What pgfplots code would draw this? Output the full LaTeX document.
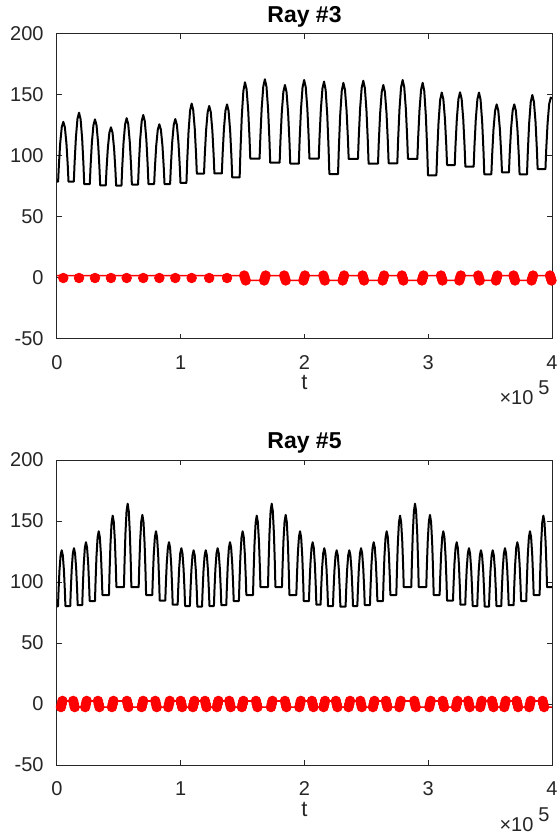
\documentclass[border=0pt]{standalone}
\usepackage{fontspec}
\setmainfont{Liberation Sans}
\usepackage{pgfplots}
\pgfplotsset{compat=1.18}
\definecolor{axgray}{RGB}{38,38,38}
\pgfplotsset{myax/.style={
 scale only axis, width=247.5pt, height=152.5pt,
 xmin=0,xmax=400,ymin=-50,ymax=200,
 xtick={0,100,200,300,400}, xticklabels={0,1,2,3,4},
 ytick={-50,0,50,100,150,200}, yticklabels={-50,0,50,100,150,200},
 scaled x ticks=false, scaled y ticks=false,
 tick align=inside, major tick length=2.5pt,
 axis line style={axgray, line width=0.5pt},
 every tick/.style={axgray, line width=0.5pt},
 ticklabel style={font=\fontsize{10}{12}\selectfont, text=axgray},
 xticklabel style={anchor=base, inner sep=0pt, yshift=-15.2pt},
 yticklabel style={anchor=east, inner sep=0pt, xshift=-6.5pt},
 title style={at={(axis description cs:0.5,1)}, anchor=base, yshift=-0.4pt, font=\bfseries\fontsize{11.5}{13}\selectfont},
 xlabel style={at={(axis description cs:0.5,0)}, anchor=base, yshift=-25.5pt, font=\fontsize{11}{13}\selectfont, text=axgray},
 xlabel={t},
 /pgf/number format/assume math mode=true,
}}
\begin{document}
\begin{tikzpicture}
\path[use as bounding box] (0,0) rectangle (278.5pt,-417.5pt);
% ---------------- Ray #3 ----------------
\begin{axis}[myax, name=top, at={(28.5pt,-17pt)}, anchor=north west, title={Ray \#3}]
\addplot[black, line width=1pt, line join=round] coordinates {
(0,79)
(0.9,79)(1.53,92.6)(2.58,110.4)(3.84,123.6)(5.1,128)(6.36,123.6)(7.62,110.4)(8.67,92.6)(9.3,79)
(13.6,79)(14.23,94.7)(15.28,115.2)(16.54,130.4)(17.8,135.5)(19.06,130.2)(20.32,114.4)(21.37,93.2)(22.0,77)
(26.5,77)(27.13,91.7)(28.18,110.9)(29.44,125.2)(30.7,130)(31.96,125.1)(33.22,110.6)(34.27,91.0)(34.9,76)
(39.4,76)(40.03,89.2)(41.08,106.4)(42.34,119.2)(43.6,123.5)(44.86,119.2)(46.12,106.3)(47.17,89.0)(47.8,75.7)
(52.1,75.7)(52.73,91.0)(53.78,111.1)(55.04,126.0)(56.3,131)(57.56,126.1)(58.82,111.4)(59.87,91.7)(60.5,76.6)
(65.5,76.6)(66.13,92.4)(67.18,113.1)(68.44,128.5)(69.7,133.6)(70.96,128.5)(72.22,113.2)(73.27,92.7)(73.9,77)
(78.5,77)(79.13,90.6)(80.18,108.4)(81.44,121.6)(82.7,126)(83.96,121.6)(85.22,108.4)(86.27,90.6)(86.9,77)
(91.4,77)(92.03,91.8)(93.08,111.1)(94.34,125.5)(95.6,130.3)(96.86,125.6)(98.12,111.5)(99.17,92.5)(99.8,78)
(104.6,78)(105.23,96.0)(106.28,119.6)(107.54,137.2)(108.8,143)(110.06,137.8)(111.32,122.3)(112.37,101.5)(113.0,85.5)
(118.8,85.5)(119.43,100.9)(120.48,121.0)(121.74,136.0)(123.0,141)(124.26,136.0)(125.52,121.1)(126.57,101.0)(127.2,85.7)
(133.2,85.7)(133.83,101.4)(134.88,121.9)(136.14,137.2)(137.4,142.3)(138.66,136.9)(139.92,120.8)(140.97,99.1)(141.6,82.5)
(147.6,82.5)(148.245,104.1)(149.32,132.4)(150.61,153.4)(151.9,160.4)(153.19,154.8)(154.48,137.9)(155.555,115.2)(156.2,97.8)
(163.7,97.8)(164.345,115.9)(165.42,139.5)(166.71,157.0)(168.0,162.9)(169.29,156.7)(170.58,138.3)(171.655,113.5)(172.3,94.5)
(179.9,94.5)(180.545,112.2)(181.62,135.3)(182.91,152.5)(184.2,158.2)(185.49,152.4)(186.78,135.0)(187.855,111.6)(188.5,93.7)
(195.4,93.7)(196.045,112.7)(197.12,137.6)(198.41,156.1)(199.7,162.3)(200.99,156.5)(202.28,139.1)(203.355,115.7)(204.0,97.8)
(211.5,97.8)(212.145,115.3)(213.22,138.2)(214.51,155.3)(215.8,161)(217.09,154.2)(218.38,133.7)(219.455,106.2)(220.1,85.2)
(227.1,85.2)(227.745,106.0)(228.82,133.1)(230.11,153.3)(231.4,160)(232.69,154.4)(233.98,137.5)(235.055,114.9)(235.7,97.6)
(243.2,97.6)(243.845,115.4)(244.92,138.6)(246.21,155.9)(247.5,161.7)(248.79,155.6)(250.08,137.2)(251.155,112.6)(251.8,93.7)
(259.4,93.7)(260.045,111.6)(261.12,135.0)(262.41,152.4)(263.7,158.2)(264.99,152.4)(266.28,135.1)(267.355,111.8)(268.0,94)
(275.0,94)(275.645,113.0)(276.72,137.7)(278.01,156.2)(279.3,162.3)(280.59,156.5)(281.88,139.0)(282.955,115.6)(283.6,97.6)
(291.2,97.6)(291.845,114.9)(292.92,137.5)(294.21,154.4)(295.5,160)(296.79,153.2)(298.08,132.7)(299.155,105.2)(299.8,84.2)
(306.6,84.2)(307.245,103.0)(308.32,127.6)(309.61,145.9)(310.9,152)(312.19,146.7)(313.48,130.6)(314.555,109.1)(315.2,92.6)
(321.4,92.6)(322.045,109.1)(323.12,130.7)(324.41,146.8)(325.7,152.2)(326.99,146.7)(328.28,130.2)(329.355,108.1)(330.0,91.2)
(336.7,91.2)(337.345,108.1)(338.42,130.1)(339.71,146.5)(341.0,152)(342.29,146.0)(343.58,127.9)(344.655,103.6)(345.3,85)
(351.0,85)(351.645,100.9)(352.72,121.7)(354.01,137.1)(355.3,142.3)(356.59,137.3)(357.88,122.2)(358.955,102.1)(359.6,86.6)
(365.2,86.6)(365.845,102.1)(366.92,122.2)(368.21,137.3)(369.5,142.3)(370.79,137.1)(372.08,121.7)(373.155,100.9)(373.8,85)
(379.8,85)(380.445,103.0)(381.52,126.6)(382.81,144.2)(384.1,150)(385.39,144.5)(386.68,128.1)(387.755,106.1)(388.4,89.3)
(394.7,89.3)(395.345,105.5)(396.42,126.7)(397.71,142.5)(399.0,147.8)(400,147.0)
};
\addplot[red, line width=0.8pt] coordinates {
(0,2)
(4.5,2)(5.1,0)(5.7,2)
(17.2,2)(17.8,0)(18.4,2)
(30.1,2)(30.7,0)(31.3,2)
(43.0,2)(43.6,0)(44.2,2)
(55.7,2)(56.3,0)(56.9,2)
(69.1,2)(69.7,0)(70.3,2)
(82.1,2)(82.7,0)(83.3,2)
(95.0,2)(95.6,0)(96.2,2)
(108.2,2)(108.8,0)(109.4,2)
(122.4,2)(123.0,0)(123.6,2)
(136.8,2)(137.4,0)(138.0,2)
(151.3,2)(151.9,0)(152.5,-2)
(167.4,-2)(168.0,0)(168.6,2)
(183.6,2)(184.2,0)(184.8,-2)
(199.1,-2)(199.7,0)(200.3,2)
(215.2,2)(215.8,0)(216.4,-2)
(230.8,-2)(231.4,0)(232.0,2)
(246.9,2)(247.5,0)(248.1,-2)
(263.1,-2)(263.7,0)(264.3,2)
(278.7,2)(279.3,0)(279.9,-2)
(294.9,-2)(295.5,0)(296.1,2)
(310.3,2)(310.9,0)(311.5,-2)
(325.1,-2)(325.7,0)(326.3,2)
(340.4,2)(341.0,0)(341.6,-2)
(354.7,-2)(355.3,0)(355.9,2)
(368.9,2)(369.5,0)(370.1,-2)
(383.5,-2)(384.1,0)(384.7,2)
(398.4,2)(399.0,0)(399.6,-2)
(400,-2)
};
\addplot[red, only marks, mark=*, mark size=2.4pt, mark options={fill=red, draw=red}] coordinates {
(5.1,0)(17.8,0)(30.7,0)(43.6,0)(56.3,0)(69.7,0)(82.7,0)(95.6,0)(108.8,0)(123.0,0)(137.4,0)
(151.3,2)(151.9,0)(152.5,-2)
(167.4,-2)(168.0,0)(168.6,2)
(183.6,2)(184.2,0)(184.8,-2)
(199.1,-2)(199.7,0)(200.3,2)
(215.2,2)(215.8,0)(216.4,-2)
(230.8,-2)(231.4,0)(232.0,2)
(246.9,2)(247.5,0)(248.1,-2)
(263.1,-2)(263.7,0)(264.3,2)
(278.7,2)(279.3,0)(279.9,-2)
(294.9,-2)(295.5,0)(296.1,2)
(310.3,2)(310.9,0)(311.5,-2)
(325.1,-2)(325.7,0)(326.3,2)
(340.4,2)(341.0,0)(341.6,-2)
(354.7,-2)(355.3,0)(355.9,2)
(368.9,2)(369.5,0)(370.1,-2)
(383.5,-2)(384.1,0)(384.7,2)
(398.4,2)(399.0,0)(399.6,-2)
};
\end{axis}
\node[anchor=base east, inner sep=0pt, text=axgray, font=\fontsize{10}{12}\selectfont, xshift=-1pt, yshift=-33pt] at (top.south east) {×10\hspace{2.5pt}\raisebox{5pt}{5}};
% ---------------- Ray #5 ----------------
\begin{axis}[myax, name=bot, at={(28.5pt,-230pt)}, anchor=north west, title={Ray \#5}]
\addplot[black, line width=1pt, line join=round] coordinates {
(0,80)
(0.8,80)(1.25,92.8)(2.0,109.4)(2.9,121.9)(3.8,126)(4.7,121.9)(5.6,109.5)(6.35,93.0)(6.8,80.3)
(10.7,80.3)(11.15,93.5)(11.9,110.6)(12.8,123.4)(13.7,127.7)(14.6,123.5)(15.5,110.9)(16.25,94.0)(16.7,81)
(20.4,81)(20.85,95.3)(21.6,114.0)(22.5,128.0)(23.4,132.6)(24.3,128.3)(25.2,115.2)(25.95,97.8)(26.4,84.4)
(30.7,84.4)(31.15,100.3)(31.9,121.0)(32.8,136.5)(33.7,141.6)(34.6,136.9)(35.5,122.8)(36.25,103.8)(36.7,89.3)
(42.0,89.3)(42.45,107.4)(43.2,131.0)(44.1,148.5)(45.0,154.4)(45.9,149.1)(46.8,133.3)(47.55,112.1)(48.0,95.8)
(54.1,95.8)(54.55,114.8)(55.3,139.6)(56.2,158.0)(57.1,164.2)(58.0,158.0)(58.9,139.6)(59.65,114.8)(60.1,95.8)
(66.0,95.8)(66.45,112.2)(67.2,133.7)(68.1,149.7)(69.0,155)(69.9,149.1)(70.8,131.3)(71.55,107.5)(72.0,89.3)
(77.0,89.3)(77.45,103.8)(78.2,122.8)(79.1,136.9)(80.0,141.6)(80.9,136.5)(81.8,121.1)(82.55,100.5)(83.0,84.7)
(87.5,84.7)(87.95,98.0)(88.7,115.4)(89.6,128.3)(90.5,132.6)(91.4,128.0)(92.3,114.2)(93.05,95.6)(93.5,81.4)
(97.5,81.4)(97.95,94.2)(98.7,111.0)(99.6,123.5)(100.5,127.7)(101.4,123.4)(102.3,110.6)(103.05,93.5)(103.5,80.3)
(107.4,80.3)(107.85,93.0)(108.6,109.5)(109.5,121.9)(110.4,126)(111.3,121.8)(112.2,109.4)(112.95,92.6)(113.4,79.8)
(117.2,79.8)(117.65,92.6)(118.4,109.4)(119.3,121.8)(120.2,126)(121.1,121.9)(122.0,109.5)(122.75,93.0)(123.2,80.3)
(126.8,80.3)(127.25,93.5)(128.0,110.6)(128.9,123.4)(129.8,127.7)(130.7,123.5)(131.6,110.9)(132.35,94.0)(132.8,81)
(136.8,81)(137.25,95.3)(138.0,114.0)(138.9,128.0)(139.8,132.6)(140.7,128.3)(141.6,115.2)(142.35,97.8)(142.8,84.4)
(147.0,84.4)(147.45,100.3)(148.2,121.0)(149.1,136.5)(150.0,141.6)(150.9,136.9)(151.8,122.8)(152.55,103.8)(153.0,89.3)
(158.4,89.3)(158.85,107.4)(159.6,131.0)(160.5,148.5)(161.4,154.4)(162.3,149.1)(163.2,133.3)(163.95,112.1)(164.4,95.8)
(170.5,95.8)(170.95,114.8)(171.7,139.6)(172.6,158.0)(173.5,164.2)(174.4,158.0)(175.3,139.6)(176.05,114.8)(176.5,95.8)
(181.8,95.8)(182.25,112.2)(183.0,133.7)(183.9,149.7)(184.8,155)(185.7,149.1)(186.6,131.3)(187.35,107.5)(187.8,89.3)
(193.4,89.3)(193.85,103.8)(194.6,122.8)(195.5,136.9)(196.4,141.6)(197.3,136.5)(198.2,121.0)(198.95,100.3)(199.4,84.4)
(203.6,84.4)(204.05,97.8)(204.8,115.2)(205.7,128.3)(206.6,132.6)(207.5,128.0)(208.4,114.2)(209.15,95.6)(209.6,81.4)
(213.0,81.4)(213.45,94.2)(214.2,111.0)(215.1,123.5)(216.0,127.7)(216.9,123.4)(217.8,110.6)(218.55,93.5)(219.0,80.3)
(223.0,80.3)(223.45,93.0)(224.2,109.5)(225.1,121.9)(226.0,126)(226.9,121.8)(227.8,109.4)(228.55,92.6)(229.0,79.8)
(233.2,79.8)(233.65,92.6)(234.4,109.4)(235.3,121.8)(236.2,126)(237.1,121.9)(238.0,109.5)(238.75,93.0)(239.2,80.3)
(242.7,80.3)(243.15,93.5)(243.9,110.6)(244.8,123.4)(245.7,127.7)(246.6,123.5)(247.5,110.9)(248.25,94.0)(248.7,81)
(252.9,81)(253.35,95.3)(254.1,114.0)(255.0,128.0)(255.9,132.6)(256.8,128.3)(257.7,115.2)(258.45,97.8)(258.9,84.4)
(263.4,84.4)(263.85,100.3)(264.6,121.0)(265.5,136.5)(266.4,141.6)(267.3,136.9)(268.2,122.8)(268.95,103.8)(269.4,89.3)
(274.2,89.3)(274.65,107.4)(275.4,131.0)(276.3,148.5)(277.2,154.4)(278.1,149.1)(279.0,133.3)(279.75,112.1)(280.2,95.8)
(286.3,95.8)(286.75,114.8)(287.5,139.6)(288.4,158.0)(289.3,164.2)(290.2,158.0)(291.1,139.6)(291.85,114.8)(292.3,95.8)
(298.4,95.8)(298.85,112.2)(299.6,133.7)(300.5,149.7)(301.4,155)(302.3,149.1)(303.2,131.3)(303.95,107.5)(304.4,89.3)
(309.2,89.3)(309.65,103.8)(310.4,122.8)(311.3,136.9)(312.2,141.6)(313.1,136.5)(314.0,121.1)(314.75,100.5)(315.2,84.7)
(320.0,84.7)(320.45,98.0)(321.2,115.4)(322.1,128.3)(323.0,132.6)(323.9,128.0)(324.8,114.2)(325.55,95.6)(326.0,81.4)
(329.9,81.4)(330.35,94.2)(331.1,111.0)(332.0,123.5)(332.9,127.7)(333.8,123.4)(334.7,110.6)(335.45,93.5)(335.9,80.3)
(339.6,80.3)(340.05,93.0)(340.8,109.5)(341.7,121.9)(342.6,126)(343.5,121.8)(344.4,109.4)(345.15,92.6)(345.6,79.8)
(349.1,79.8)(349.55,92.6)(350.3,109.4)(351.2,121.8)(352.1,126)(353.0,121.9)(353.9,109.5)(354.65,93.0)(355.1,80.3)
(359.0,80.3)(359.45,93.5)(360.2,110.6)(361.1,123.4)(362.0,127.7)(362.9,123.5)(363.8,110.9)(364.55,94.0)(365.0,81)
(369.0,81)(369.45,95.3)(370.2,114.0)(371.1,128.0)(372.0,132.6)(372.9,128.3)(373.8,115.2)(374.55,97.8)(375.0,84.4)
(379.2,84.4)(379.65,100.3)(380.4,121.0)(381.3,136.5)(382.2,141.6)(383.1,136.9)(384.0,122.8)(384.75,103.8)(385.2,89.3)
(390.0,89.3)(390.45,107.4)(391.2,131.0)(392.1,148.5)(393.0,154.4)(393.9,149.1)(394.8,133.3)(395.55,112.1)(396.0,95.8)
(400,95.8)
};
\addplot[red, line width=0.8pt] coordinates {
(0,-2.5)
(3.2,-2.5)(3.8,0)(4.4,2.5)
(13.1,2.5)(13.7,0)(14.3,-2.5)
(22.8,-2.5)(23.4,0)(24.0,2.5)
(33.1,2.5)(33.7,0)(34.3,-2.5)
(44.4,-2.5)(45.0,0)(45.6,2.5)
(56.5,2.5)(57.1,0)(57.7,-2.5)
(68.4,-2.5)(69.0,0)(69.6,2.5)
(79.4,2.5)(80.0,0)(80.6,-2.5)
(89.9,-2.5)(90.5,0)(91.1,2.5)
(99.9,2.5)(100.5,0)(101.1,-2.5)
(109.8,-2.5)(110.4,0)(111.0,2.5)
(119.6,2.5)(120.2,0)(120.8,-2.5)
(129.2,-2.5)(129.8,0)(130.4,2.5)
(139.2,2.5)(139.8,0)(140.4,-2.5)
(149.4,-2.5)(150.0,0)(150.6,2.5)
(160.8,2.5)(161.4,0)(162.0,-2.5)
(172.9,-2.5)(173.5,0)(174.1,2.5)
(184.2,2.5)(184.8,0)(185.4,-2.5)
(195.8,-2.5)(196.4,0)(197.0,2.5)
(206.0,2.5)(206.6,0)(207.2,-2.5)
(215.4,-2.5)(216.0,0)(216.6,2.5)
(225.4,2.5)(226.0,0)(226.6,-2.5)
(235.6,-2.5)(236.2,0)(236.8,2.5)
(245.1,2.5)(245.7,0)(246.3,-2.5)
(255.3,-2.5)(255.9,0)(256.5,2.5)
(265.8,2.5)(266.4,0)(267.0,-2.5)
(276.6,-2.5)(277.2,0)(277.8,2.5)
(288.7,2.5)(289.3,0)(289.9,-2.5)
(300.8,-2.5)(301.4,0)(302.0,2.5)
(311.6,2.5)(312.2,0)(312.8,-2.5)
(322.4,-2.5)(323.0,0)(323.6,2.5)
(332.3,2.5)(332.9,0)(333.5,-2.5)
(342.0,-2.5)(342.6,0)(343.2,2.5)
(351.5,2.5)(352.1,0)(352.7,-2.5)
(361.4,-2.5)(362.0,0)(362.6,2.5)
(371.4,2.5)(372.0,0)(372.6,-2.5)
(381.6,-2.5)(382.2,0)(382.8,2.5)
(392.4,2.5)(393.0,0)(393.6,-2.5)
(400,-2.5)
};
\addplot[red, only marks, mark=*, mark size=2.4pt, mark options={fill=red, draw=red}] coordinates {
(3.2,-2.5)(3.8,0)(4.4,2.5)
(13.1,2.5)(13.7,0)(14.3,-2.5)
(22.8,-2.5)(23.4,0)(24.0,2.5)
(33.1,2.5)(33.7,0)(34.3,-2.5)
(44.4,-2.5)(45.0,0)(45.6,2.5)
(56.5,2.5)(57.1,0)(57.7,-2.5)
(68.4,-2.5)(69.0,0)(69.6,2.5)
(79.4,2.5)(80.0,0)(80.6,-2.5)
(89.9,-2.5)(90.5,0)(91.1,2.5)
(99.9,2.5)(100.5,0)(101.1,-2.5)
(109.8,-2.5)(110.4,0)(111.0,2.5)
(119.6,2.5)(120.2,0)(120.8,-2.5)
(129.2,-2.5)(129.8,0)(130.4,2.5)
(139.2,2.5)(139.8,0)(140.4,-2.5)
(149.4,-2.5)(150.0,0)(150.6,2.5)
(160.8,2.5)(161.4,0)(162.0,-2.5)
(172.9,-2.5)(173.5,0)(174.1,2.5)
(184.2,2.5)(184.8,0)(185.4,-2.5)
(195.8,-2.5)(196.4,0)(197.0,2.5)
(206.0,2.5)(206.6,0)(207.2,-2.5)
(215.4,-2.5)(216.0,0)(216.6,2.5)
(225.4,2.5)(226.0,0)(226.6,-2.5)
(235.6,-2.5)(236.2,0)(236.8,2.5)
(245.1,2.5)(245.7,0)(246.3,-2.5)
(255.3,-2.5)(255.9,0)(256.5,2.5)
(265.8,2.5)(266.4,0)(267.0,-2.5)
(276.6,-2.5)(277.2,0)(277.8,2.5)
(288.7,2.5)(289.3,0)(289.9,-2.5)
(300.8,-2.5)(301.4,0)(302.0,2.5)
(311.6,2.5)(312.2,0)(312.8,-2.5)
(322.4,-2.5)(323.0,0)(323.6,2.5)
(332.3,2.5)(332.9,0)(333.5,-2.5)
(342.0,-2.5)(342.6,0)(343.2,2.5)
(351.5,2.5)(352.1,0)(352.7,-2.5)
(361.4,-2.5)(362.0,0)(362.6,2.5)
(371.4,2.5)(372.0,0)(372.6,-2.5)
(381.6,-2.5)(382.2,0)(382.8,2.5)
(392.4,2.5)(393.0,0)(393.6,-2.5)
};
\end{axis}
\node[anchor=base east, inner sep=0pt, text=axgray, font=\fontsize{10}{12}\selectfont, xshift=-1pt, yshift=-33pt] at (bot.south east) {×10\hspace{2.5pt}\raisebox{5pt}{5}};
\end{tikzpicture}
\end{document}
